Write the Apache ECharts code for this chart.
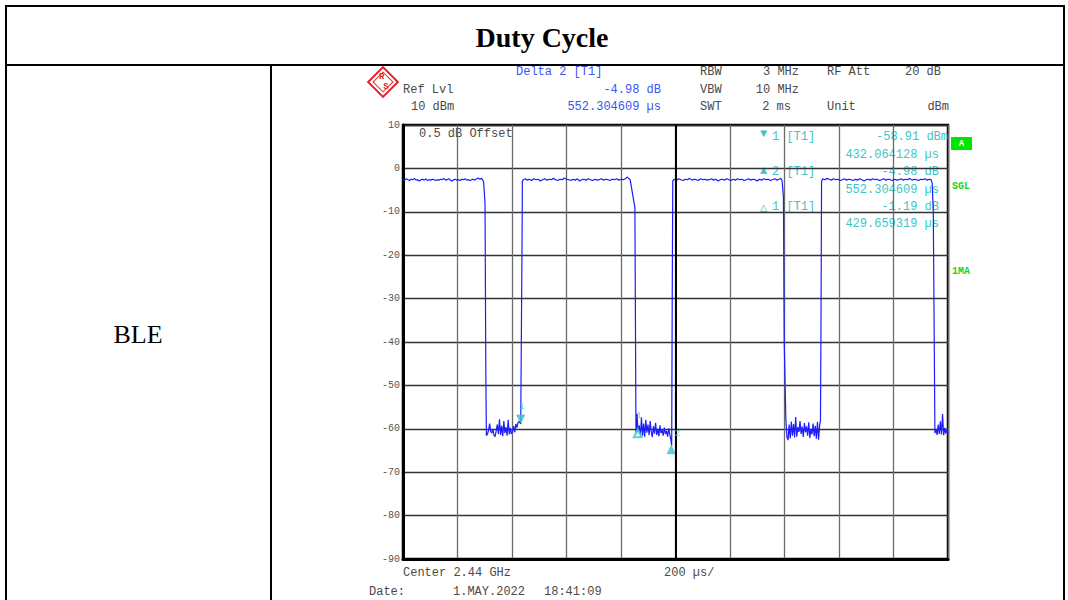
<!DOCTYPE html>
<html>
<head>
<meta charset="utf-8">
<title>Duty Cycle</title>
<script src="https://cdn.jsdelivr.net/npm/echarts@6/dist/echarts.min.js"></script>
<style>
  html, body { margin: 0; padding: 0; background: #fff; }
  #main { width: 1068px; height: 600px; }
</style>
</head>
<body>
<div id="main"></div>
<script>
// sweep trace, [time µs, level dBm]
const burst1 = [[0,-2.5],[6,-2.7],[12,-2.4],[18,-2.6],[24,-2.8],[30,-2.5],[36,-2.6],[42,-2.3],[48,-2.7],[54,-2.6],[60,-2.9],[66,-2.6],[72,-2.5],[78,-2.7],[84,-2.4],[90,-2.8],[96,-2.6],[102,-2.7],[108,-2.5],[114,-2.6],[120,-2.8],[126,-2.6],[132,-2.7],[138,-2.5],[144,-2.6],[150,-2.3],[156,-2.7],[162,-2.6],[168,-2.4],[174,-2.7],[180,-2.9],[186,-2.6],[192,-2.5],[198,-2.7],[204,-2.6],[210,-2.8],[216,-2.5],[222,-2.6],[228,-2.4],[234,-2.7],[240,-2.6],[246,-2.8],[252,-2.6],[258,-2.5],[264,-2.7],[270,-2.4],[276,-2.2],[282,-2.5],[288,-2.3],[292,-2.6],[296,-3.2],[301,-8.0]]
const gap1 = [[304,-47.8],[306,-61.6],[310,-61.2],[314,-60.3],[318,-58.8],[322,-60.6],[326,-61.0],[330,-60.2],[334,-61.5],[338,-61.8],[342,-60.4],[346,-59.0],[350,-61.2],[354,-57.8],[358,-61.4],[362,-59.3],[366,-61.7],[370,-58.2],[374,-61.0],[378,-59.6],[382,-61.6],[386,-57.9],[390,-61.3],[394,-59.8],[398,-61.2],[402,-60.6],[406,-59.4],[410,-60.8],[414,-58.9],[418,-59.7],[422,-58.6],[426,-58.3],[432,-58.9]]
const burst2 = [[437,-15.6],[438,-3.0],[442,-2.6],[448,-2.4],[456,-2.7],[464,-2.5],[472,-2.8],[480,-2.4],[488,-2.6],[496,-2.5],[504,-2.9],[512,-2.6],[520,-2.4],[528,-2.7],[536,-2.5],[544,-2.6],[552,-2.3],[560,-2.6],[568,-2.8],[576,-2.5],[584,-2.6],[592,-2.2],[600,-2.5],[608,-2.6],[616,-2.8],[624,-2.5],[632,-2.7],[640,-2.4],[648,-2.9],[656,-2.6],[664,-2.5],[672,-2.7],[680,-2.4],[688,-2.6],[696,-2.8],[704,-2.5],[712,-2.7],[720,-2.6],[728,-2.4],[736,-2.7],[744,-2.5],[752,-2.6],[760,-2.8],[768,-2.5],[776,-2.6],[784,-2.4],[792,-2.7],[800,-2.5],[808,-2.6],[816,-2.4],[822,-2.0],[828,-2.3],[834,-2.7],[851,-9.1]]
const gap2 = [[855,-61.3],[859,-56.6],[863,-61.5],[867,-59.2],[871,-62.0],[875,-57.4],[879,-61.6],[883,-58.8],[887,-61.8],[891,-57.9],[895,-60.9],[899,-59.0],[903,-61.5],[907,-58.2],[911,-60.7],[915,-61.9],[919,-59.4],[923,-61.1],[927,-58.6],[931,-61.4],[935,-60.0],[939,-61.7],[943,-59.2],[947,-61.0],[951,-60.3],[955,-61.6],[959,-59.7],[963,-61.2],[967,-60.5],[971,-61.8],[975,-59.9],[979,-61.3],[983,-62.5],[986,-63.9]]
const burst3 = [[988,-30.0],[990,-2.9],[996,-2.5],[1004,-2.7],[1012,-2.4],[1020,-2.6],[1028,-2.8],[1036,-2.5],[1044,-2.6],[1052,-2.3],[1060,-2.7],[1068,-2.5],[1076,-2.6],[1084,-2.8],[1092,-2.4],[1100,-2.6],[1108,-2.5],[1116,-2.7],[1124,-2.6],[1132,-2.4],[1140,-2.7],[1148,-2.5],[1156,-2.9],[1164,-2.6],[1172,-2.5],[1180,-2.7],[1188,-2.4],[1196,-2.6],[1204,-2.8],[1212,-2.5],[1220,-2.7],[1228,-2.4],[1236,-2.6],[1244,-2.5],[1252,-2.8],[1260,-2.6],[1268,-2.4],[1276,-2.7],[1284,-2.5],[1292,-2.6],[1300,-2.9],[1308,-2.5],[1316,-2.7],[1324,-2.4],[1332,-2.6],[1340,-2.5],[1348,-2.8],[1356,-2.6],[1364,-2.4],[1372,-2.7],[1380,-2.5],[1386,-2.3],[1391,-2.8],[1396,-6.5]]
const gap3 = [[1399,-40.0],[1405,-57.8],[1409,-61.9],[1413,-62.6],[1417,-59.0],[1421,-62.2],[1425,-58.3],[1429,-61.6],[1433,-58.9],[1437,-62.0],[1441,-57.3],[1445,-61.8],[1449,-59.6],[1453,-60.7],[1457,-58.2],[1461,-61.2],[1465,-59.5],[1469,-61.9],[1473,-58.7],[1477,-60.8],[1481,-59.4],[1485,-61.6],[1489,-58.5],[1493,-62.1],[1497,-60.0],[1501,-61.3],[1505,-58.8],[1509,-61.7],[1513,-59.3],[1517,-62.3],[1521,-58.4],[1525,-62.5],[1529,-59.2],[1532,-58.1]]
const burst4 = [[1534,-35.0],[1536,-3.0],[1540,-2.4],[1548,-2.6],[1556,-2.3],[1564,-2.5],[1572,-2.7],[1580,-2.4],[1588,-2.6],[1596,-2.5],[1604,-2.8],[1612,-2.6],[1620,-2.4],[1628,-2.7],[1636,-2.5],[1644,-2.6],[1652,-2.8],[1660,-2.5],[1668,-2.7],[1676,-2.4],[1684,-2.6],[1692,-2.9],[1700,-2.6],[1708,-2.5],[1716,-2.7],[1724,-2.4],[1732,-2.6],[1740,-2.5],[1748,-2.8],[1756,-2.6],[1764,-2.4],[1772,-2.7],[1780,-2.5],[1788,-2.6],[1796,-2.8],[1804,-2.5],[1812,-2.7],[1820,-2.6],[1828,-2.4],[1836,-2.7],[1844,-2.5],[1852,-2.6],[1860,-2.3],[1868,-2.7],[1876,-2.5],[1884,-2.6],[1892,-2.8],[1900,-2.5],[1908,-2.6],[1916,-2.4],[1924,-2.7],[1932,-2.5],[1938,-2.6],[1942,-3.4],[1946,-10.0]]
const gap4 = [[1952,-61.0],[1956,-60.2],[1960,-61.4],[1964,-59.0],[1968,-61.2],[1972,-58.3],[1976,-61.3],[1980,-56.6],[1984,-61.5],[1988,-59.8],[1992,-61.1],[1996,-60.2],[2000,-61.0]]

// markers: M1, D2, D1 (times µs, levels dBm)
const markerNames = ['1', '2', '1']
const markerTimes = [432.064128, 984.368737, 861.723447]
const markerLevels = [-58.91, -63.89, -60.10]

const yTicks = [10, 0, -10, -20, -30, -40, -50, -60, -70, -80, -90]

const trace = [].concat(burst1, gap1, burst2, gap2, burst3, gap3, burst4, gap4)

const mono = '"Liberation Mono", "DejaVu Sans Mono", monospace'
const gray = '#4a4a4a'
const blue = '#3a55f0'
const cyan = '#3cc6c6'
const green = '#19d619'

function txt(x, y, text, fill, opt) {
  opt = opt || {}
  return {
    type: 'text', x: x, y: y, silent: true,
    style: {
      text: text, fill: fill,
      font: (opt.weight || 'normal') + ' ' + (opt.size || 12) + 'px ' + (opt.family || mono),
      align: opt.align || 'left', verticalAlign: 'middle'
    }
  }
}
function ln(x1, y1, x2, y2, w) {
  return { type: 'line', silent: true, shape: {x1, y1, x2, y2}, style: {stroke: '#000', lineWidth: w || 2} }
}

const graphics = [
  // table
  ln(5, 6, 1064, 6), ln(5, 65, 1064, 65), ln(6, 5, 6, 600), ln(1064, 5, 1064, 600), ln(271, 65, 271, 600),
  txt(542, 37, 'Duty Cycle', '#000', {size: 28, weight: 'bold', family: '"Liberation Serif", "Times New Roman", serif', align: 'center'}),
  txt(138, 334, 'BLE', '#000', {size: 26, family: '"Liberation Serif", "Times New Roman", serif', align: 'center'}),
  // R&S logo
  { type: 'rect', x: 383, y: 82, rotation: Math.PI / 4, silent: true, shape: {x: -10.5, y: -10.5, width: 21, height: 21},
    style: {fill: 'none', stroke: '#e8202a', lineWidth: 2} },
  { type: 'rect', x: 383, y: 82, rotation: Math.PI / 4, silent: true, shape: {x: -7, y: -7, width: 14, height: 14},
    style: {fill: 'none', stroke: '#e8202a', lineWidth: 1} },
  txt(379, 77, 'R', '#e8202a', {size: 9, weight: 'bold'}),
  txt(386, 87, 'S', '#e8202a', {size: 9, weight: 'bold', align: 'center'}),
  // header
  txt(516, 72, 'Delta 2 [T1]', blue),
  txt(403, 90, 'Ref Lvl', gray),
  txt(661, 90, '-4.98 dB', blue, {align: 'right'}),
  txt(411, 107, '10 dBm', gray),
  txt(661, 107, '552.304609 µs', blue, {align: 'right'}),
  txt(700, 72, 'RBW', gray), txt(799, 72, '3 MHz', gray, {align: 'right'}),
  txt(827, 72, 'RF Att', gray), txt(941, 72, '20 dB', gray, {align: 'right'}),
  txt(700, 90, 'VBW', gray), txt(799, 90, '10 MHz', gray, {align: 'right'}),
  txt(700, 107, 'SWT', gray), txt(791, 107, '2 ms', gray, {align: 'right'}),
  txt(827, 107, 'Unit', gray), txt(949, 107, 'dBm', gray, {align: 'right'}),
  // inside plot
  txt(419, 134, '0.5 dB Offset', gray),
  txt(760, 134, '▼', cyan, {size: 12}), txt(772, 137, '1 [T1]', cyan),
  txt(948, 137, '-58.91 dBm', cyan, {align: 'right'}),
  txt(939, 155, '432.064128 µs', cyan, {align: 'right'}),
  txt(760, 171, '▲', cyan, {size: 12}), txt(772, 172, '2 [T1]', cyan),
  txt(939, 172, '-4.98 dB', cyan, {align: 'right'}),
  txt(939, 190, '552.304609 µs', cyan, {align: 'right'}),
  txt(760, 208, '△', cyan, {size: 12}), txt(772, 207, '1 [T1]', cyan),
  txt(939, 207, '-1.19 dB', cyan, {align: 'right'}),
  txt(939, 224, '429.659319 µs', cyan, {align: 'right'}),
  // side annotations
  { type: 'rect', silent: true, shape: {x: 951, y: 137, width: 21, height: 13}, style: {fill: '#00e600'} },
  txt(961.5, 143.5, 'A', '#fff', {size: 9, weight: 'bold', align: 'center'}),
  txt(952, 186, 'SGL', green, {size: 10, weight: 'bold'}),
  txt(952, 271, '1MA', green, {size: 10, weight: 'bold'}),
  // footer
  txt(403, 573, 'Center 2.44 GHz', gray),
  txt(664, 573, '200 µs/', gray),
  txt(369, 592, 'Date:', gray),
  txt(453, 592, '1.MAY.2022', gray),
  txt(544, 592, '18:41:09', gray)
]

// label offsets (px) from the marker point
const labelOffset = [[1, -17], [6, -12], [1, -13]]
const markerData = markerTimes.map((t, i) => ({
  value: [t, markerLevels[i]],
  symbol: i === 2 ? 'emptyTriangle' : 'triangle',
  symbolRotate: i === 0 ? 180 : 0,
  symbolOffset: i === 0 ? [0, -5] : [0, 4]
}))
const markerLabelData = markerTimes.map((t, i) => ({
  value: [t, markerLevels[i]],
  label: {show: true, formatter: markerNames[i], color: cyan, fontSize: 9, fontFamily: mono,
    position: 'inside', offset: labelOffset[i]}
}))

const myChart = echarts.init(document.getElementById('main'), null, {renderer: 'svg'})
myChart.setOption({
  animation: false,
  backgroundColor: '#fff',
  grid: {left: 403, top: 125, width: 545, height: 434, show: true, borderColor: '#000', borderWidth: 2.5},
  xAxis: {
    type: 'value', min: 0, max: 2000, interval: 200,
    axisLine: {show: true, onZero: false, lineStyle: {color: '#000', width: 3}},
    axisTick: {show: false}, axisLabel: {show: false},
    splitLine: {show: true, lineStyle: {color: '#6a6a6a', width: 1.3}}
  },
  yAxis: {
    type: 'value', min: -90, max: 10, interval: 10,
    axisLine: {show: true, onZero: false, lineStyle: {color: '#000', width: 3}},
    axisTick: {show: false},
    axisLabel: {color: '#555', fontSize: 10, fontFamily: mono, margin: 3,
      formatter: v => yTicks.indexOf(v) >= 0 ? String(v) : ''},
    splitLine: {show: true, lineStyle: {color: '#333', width: 1.3}}
  },
  series: [
    {
      type: 'line', data: trace, showSymbol: false, silent: true,
      lineStyle: {color: '#1c1cff', width: 1.2},
      markLine: {
        silent: true, symbol: 'none', label: {show: false},
        lineStyle: {color: '#000', width: 2, type: 'solid'},
        data: [{xAxis: 1000}]
      },
      z: 3
    },
    {
      type: 'scatter', data: markerData, symbolSize: 8, silent: true,
      itemStyle: {color: cyan, borderColor: cyan}, z: 4
    },
    {
      type: 'scatter', data: markerLabelData, symbolSize: 1, silent: true,
      itemStyle: {color: 'rgba(0,0,0,0)'}, z: 5
    }
  ],
  graphic: graphics
})
</script>
</body>
</html>
